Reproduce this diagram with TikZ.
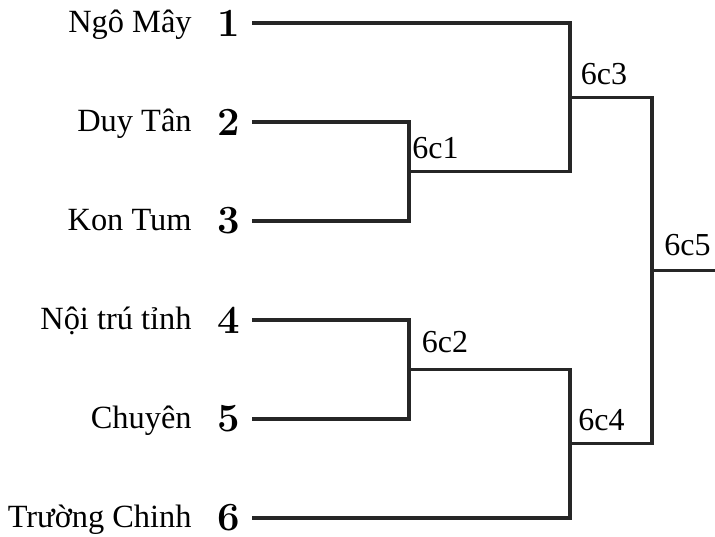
\documentclass[tikz,border=0pt]{standalone}
\usepackage{fontspec}
\newfontfamily\timesfont{Liberation Serif}
\usetikzlibrary{positioning}

\begin{document}
\begin{tikzpicture}[
        x=0.5pt, y=0.5pt,
        node distance=49.5pt,
        on grid,
        seed/.style={font=\bfseries\fontsize{20}{23}\selectfont, inner sep=0pt, outer sep=0pt, minimum width=23pt},
        team/.style={font=\timesfont\fontsize{16.2}{19}\selectfont, inner sep=0pt, anchor=base east},
        game/.style={font=\timesfont\fontsize{16}{19}\selectfont, inner sep=0pt, anchor=base west},
        line/.style={draw, line width=1.6pt, color=black!85}
    ]
    \useasboundingbox (0,0) rectangle (715,536);

    % Seeds
    \node [seed] (s1) at (229,513) {1};
    \node [seed, below=of s1] (s2) {2};
    \node [seed, below=of s2] (s3) {3};
    \node [seed, below=of s3] (s4) {4};
    \node [seed, below=of s4] (s5) {5};
    \node [seed, below=of s5] (s6) {6};

    % Teams
    \node [team] (t1) at ([xshift=-7pt, yshift=-4.8pt]s1.west) {Ngô Mây};
    \node [team] (t2) at ([xshift=-7pt, yshift=-4.8pt]s2.west) {Duy Tân};
    \node [team] (t3) at ([xshift=-7pt, yshift=-4.8pt]s3.west) {Kon Tum};
    \node [team] (t4) at ([xshift=-7pt, yshift=-4.8pt]s4.west) {Nội trú tỉnh};
    \node [team] (t5) at ([xshift=-7pt, yshift=-4.8pt]s5.west) {Chuyên};
    \node [team] (t6) at ([xshift=-7pt, yshift=-4.8pt]s6.west) {Trường Chinh};

    % Junctions of the games
    \coordinate (j1) at (409,364.5);
    \coordinate (j2) at (409,166.5);
    \coordinate (j3) at (570,438.75);
    \coordinate (j4) at (570,92.25);
    \coordinate (j5) at (652,265.5);
    \coordinate (champ) at (715,265.5);

    % Game labels
    \node [game] (g1) at ([xshift=1.5pt, yshift=6.25pt]j1) {6c1};
    \node [game] (g2) at ([xshift=6.25pt, yshift=8.75pt]j2) {6c2};
    \node [game] (g3) at ([xshift=5.25pt, yshift=6.6pt]j3) {6c3};
    \node [game] (g4) at ([xshift=4pt, yshift=6.4pt]j4) {6c4};
    \node [game] (g5) at ([xshift=6pt, yshift=7.75pt]j5) {6c5};

    % First round
    \path [line] (s2.east) -| (j1) |- (s3.east);
    \path [line] (s4.east) -| (j2) |- (s5.east);

    % Second round
    \path [line] (s1.east) -| (j3) |- (j1);
    \path [line] (j2) -| (j4) |- (s6.east);

    % Final
    \path [line] (j3) -| (j5) |- (j4);
    \path [line] (j5) -- (champ);

\end{tikzpicture}
\end{document}
